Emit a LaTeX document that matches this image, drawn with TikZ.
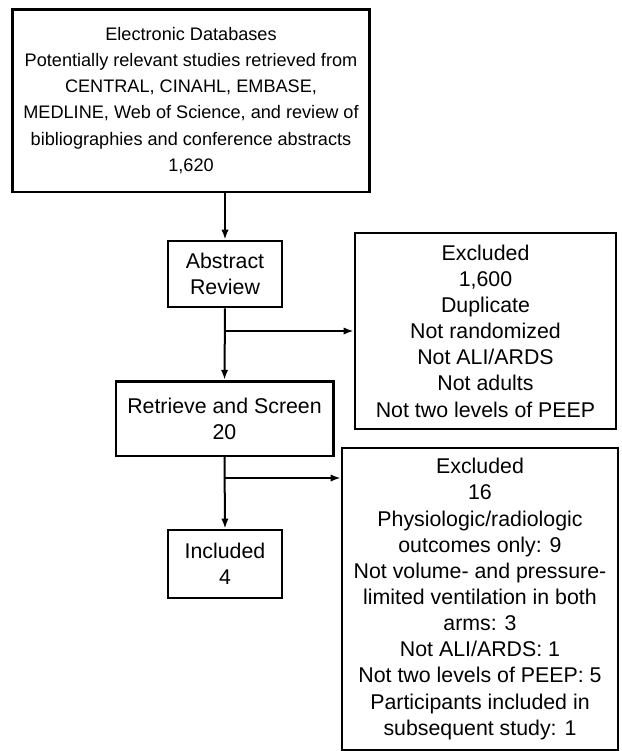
\documentclass[tikz,border=0pt]{standalone}
\usepackage{fontspec}
\setmainfont{Liberation Sans}
\usetikzlibrary{arrows.meta}
\begin{document}
\begin{tikzpicture}[x=0.75pt, y=-0.75pt,
    box/.style={draw, line width=2pt, align=center, inner sep=0pt,
        font=\fontsize{16pt}{19.6pt}\selectfont},
    flow/.style={line width=1.5pt, -{Latex[length=7.5pt, width=5.5pt]}}]
                \useasboundingbox (0, 0) rectangle (622, 751);
                \node[box, minimum width=268pt, minimum height=137pt,
                    font=\fontsize{13.6pt}{19.6pt}\selectfont] (db) at (191, 100.5)
                    {Electronic Databases\\Potentially relevant studies retrieved from\\CENTRAL, CINAHL, EMBASE,\\MEDLINE, Web of Science, and review of\\bibliographies and conference abstracts\\1,620};
                \node[box, minimum width=85.5pt, minimum height=49.5pt] (abstract) at (225, 274) {Abstract\\Review};
                \node[box, minimum width=195.75pt, minimum height=147pt] (excl1) at (485.5, 331)
                    {Excluded\\1,600\\Duplicate\\Not randomized\\Not ALI/ARDS\\Not adults\\Not two levels of PEEP};
                \node[box, minimum width=163pt, minimum height=56pt] (retrieve) at (224.5, 418.5) {Retrieve and Screen\\20};
                \node[box, minimum width=207pt, minimum height=226.5pt] (excl2) at (480, 599)
                    {Excluded\\16\\Physiologic/radiologic\\outcomes only: 9\\Not volume- and pressure-\\limited ventilation in both\\arms: 3\\Not ALI/ARDS: 1\\Not two levels of PEEP: 5\\Participants included in\\subsequent study: 1};
                \node[box, minimum width=85.5pt, minimum height=51pt] (included) at (225, 564) {Included\\4};
                \path (225, 478) coordinate (split2);
                \draw[flow] (abstract.north |- db.south) -- (abstract.north);
                \draw[flow] (abstract.south) -- (retrieve.north);
                \draw[flow] (abstract.south |- excl1.west) -- (excl1.west);
                \draw[flow] (retrieve.south) -- (included.north);
                \draw[flow] (split2) -- (split2 -| excl2.west);
            \end{tikzpicture}
\end{document}
